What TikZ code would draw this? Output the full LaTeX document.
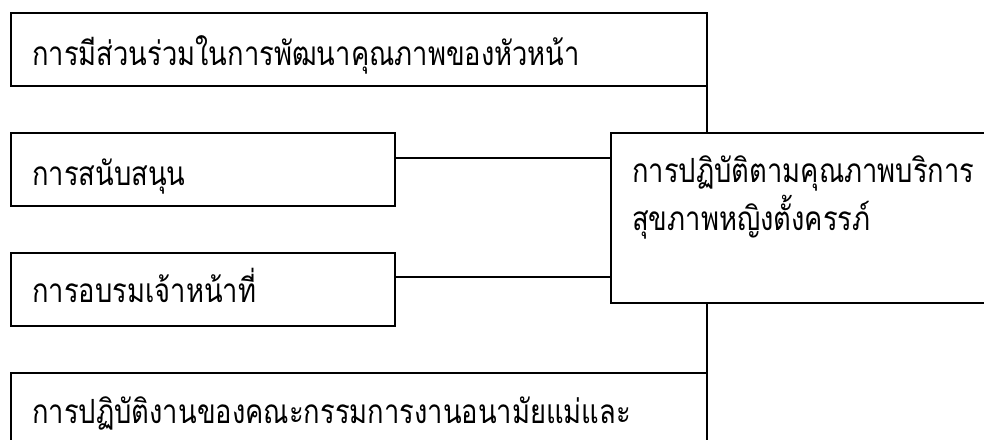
\documentclass[tikz,border=0pt]{standalone}
\usepackage{fontspec}
\newfontfamily\thaifont[Script=Thai,FakeStretch=0.82]{Loma}
\begin{document}
\begin{tikzpicture}[x=0.75pt,y=-0.75pt,
  box/.style={draw=black,line width=1.2pt,rectangle,inner sep=0pt,outer sep=0pt,anchor=north west},
  lbl/.style={anchor=base west,inner sep=0pt,font=\thaifont\fontsize{25}{29}\selectfont},
  conn/.style={draw=black,line width=1.2pt}]
\useasboundingbox (0,0) rectangle (984,439);
\clip (0,0) rectangle (984,439);
% boxes
\node[box,minimum width=696*0.75pt,minimum height=73*0.75pt] (b1) at (11,13) {};
\node[box,minimum width=384*0.75pt,minimum height=73*0.75pt] (b2) at (11,133) {};
\node[box,minimum width=384*0.75pt,minimum height=73*0.75pt] (b3) at (11,253) {};
\node[box,minimum width=696*0.75pt,minimum height=120*0.75pt] (b4) at (11,373) {};
\node[box,minimum width=420*0.75pt,minimum height=170*0.75pt] (r) at (611,133) {};
% texts
\node[lbl] (t1) at (32,65) {การมีส่วนร่วมในการพัฒนาคุณภาพของหัวหน้า};
\node[lbl] (t2) at (32,185) {การสนับสนุน};
\node[lbl] (t3) at (32,302) {การอบรมเจ้าหน้าที่};
\node[lbl] (t4) at (32,423) {การปฏิบัติงานของคณะกรรมการงานอนามัยแม่และ};
\node[lbl] (t5) at (632,182) {การปฏิบัติตามคุณภาพบริการ};
\node[lbl] (t6) at (632,230) {สุขภาพหญิงตั้งครรภ์};
% connectors
\draw[conn] (b1.south east) -- (r.north -| b1.east);
\draw[conn] (b2.east |- 0,158) -- (r.west |- 0,158);
\draw[conn] (b3.east |- 0,277) -- (r.west |- 0,277);
\draw[conn] (r.south -| b4.north east) -- (b4.north east);
\end{tikzpicture}
\end{document}
